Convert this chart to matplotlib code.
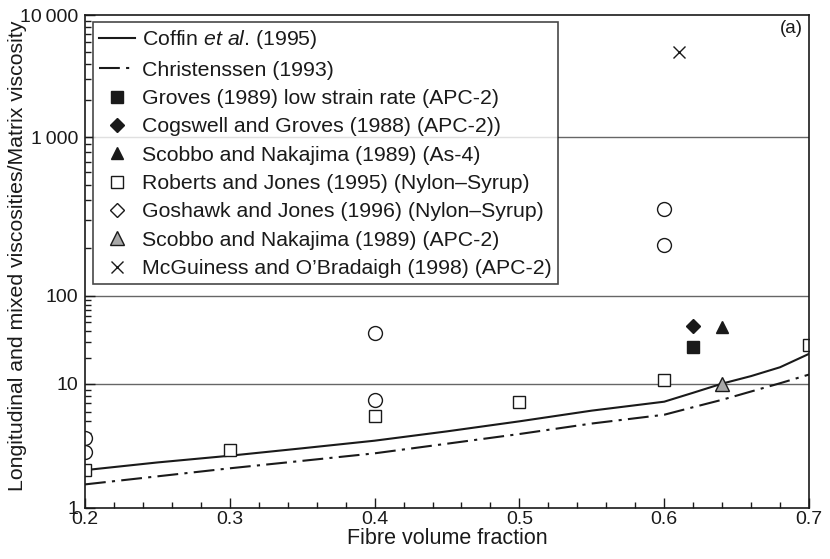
import numpy as np
import matplotlib
matplotlib.use('Agg')
import matplotlib.pyplot as plt
from matplotlib.ticker import FixedLocator, LogLocator, MultipleLocator, NullFormatter

plt.rcParams['font.family'] = ['Liberation Sans', 'DejaVu Sans']
plt.rcParams['mathtext.fontset'] = 'custom'
plt.rcParams['mathtext.it'] = 'Liberation Sans:italic'
plt.rcParams['mathtext.rm'] = 'Liberation Sans'

# model curves
vf_curve = [0.2, 0.25, 0.3, 0.35, 0.4, 0.45, 0.5, 0.55, 0.6, 0.62, 0.64, 0.66, 0.68, 0.7]
coffin = [2.02, 2.33, 2.64, 3.03, 3.49, 4.15, 5.0, 6.1, 7.2, 8.5, 10.1, 12.3, 15.5, 22]
christ = [1.55, 1.8, 2.09, 2.4, 2.76, 3.3, 3.95, 4.8, 5.65, 6.5, 7.46, 8.7, 10.2, 12.8]

# experimental points
groves_x, groves_y = [0.62], [26]
cogswell_x, cogswell_y = [0.62], [46]
scobbo_as4_x, scobbo_as4_y = [0.64], [45]
roberts_x = [0.2, 0.3, 0.4, 0.5, 0.6, 0.7]
roberts_y = [2.02, 2.94, 5.5, 7.1, 11.1, 28]
goshawk_x, goshawk_y = [], []
scobbo_apc_x, scobbo_apc_y = [0.64], [10.0]
mcg_x, mcg_y = [0.61], [5000]
circ_x = [0.2, 0.2, 0.4, 0.4, 0.6, 0.6]
circ_y = [3.65, 2.81, 7.4, 38, 350, 210]

x_ticks = [0.2, 0.3, 0.4, 0.5, 0.6, 0.7]
x_labels = ['0.2', '0.3', '0.4', '0.5', '0.6', '0.7']
y_ticks = [1, 10, 100, 1000, 10000]
y_labels = ['1', '10', '100', '1\u2009000', '10\u2009000']

# the printed axis is not an even log scale: decades have unequal heights
dec = [0, 1, 2, 3, 4]
dec_h = [0, 124, 212, 371, 493]


def fwd(y):
    y = np.asarray(y, dtype=float)
    return np.interp(np.log10(np.clip(y, 1e-10, None)), dec, dec_h, left=-1e3, right=1e3)


def inv(p):
    return 10 ** np.interp(np.asarray(p, dtype=float), dec_h, dec)


fig = plt.figure(figsize=(8.3, 5.59), dpi=100)
ax = fig.add_axes([85 / 830, 1 - 508 / 559, 724 / 830, 493 / 559])
ax.set_yscale('function', functions=(fwd, inv))

k = '#1a1a1a'
ax.plot(vf_curve, coffin, '-', color=k, lw=1.5, label='Coffin $\\it{et\\ al}$. (1995)')
ax.plot(vf_curve, christ, color=k, lw=1.5, linestyle=(0, (10, 3, 1.5, 3)),
        label='Christenssen (1993)')
ms = dict(linestyle='none', mec=k, mew=1.0)
ax.plot(groves_x, groves_y, marker='s', ms=8.5, mfc=k, label='Groves (1989) low strain rate (APC-2)', **ms)
ax.plot(cogswell_x, cogswell_y, marker='D', ms=7.5, mfc=k, label='Cogswell and Groves (1988) (APC-2))', **ms)
ax.plot(scobbo_as4_x, scobbo_as4_y, marker='^', ms=9, mfc=k, label='Scobbo and Nakajima (1989) (As-4)', **ms)
ax.plot(roberts_x, roberts_y, marker='s', ms=8.5, mfc='white', label='Roberts and Jones (1995) (Nylon\u2013Syrup)', **ms)
ax.plot(goshawk_x, goshawk_y, marker='D', ms=7, mfc='white', label='Goshawk and Jones (1996) (Nylon\u2013Syrup)', **ms)
ax.plot(scobbo_apc_x, scobbo_apc_y, marker='^', ms=9.5, mfc='#a8a8a8', label='Scobbo and Nakajima (1989) (APC-2)', **ms)
ax.plot(mcg_x, mcg_y, marker='x', ms=8.5, label='McGuiness and O\u2019Bradaigh (1998) (APC-2)', **ms)
ax.plot(circ_x, circ_y, marker='o', ms=10, mfc='white', **ms)

for g in [10, 100, 1000]:
    ax.axhline(g, color='#666666', lw=1.0, zorder=0)

ax.set_xlim(0.2, 0.7)
ax.set_ylim(1, 10000)
ax.xaxis.set_major_locator(FixedLocator(x_ticks))
ax.xaxis.set_minor_locator(MultipleLocator(0.02))
ax.set_xticklabels(x_labels)
ax.yaxis.set_major_locator(FixedLocator(y_ticks))
ax.yaxis.set_minor_locator(LogLocator(base=10, subs=np.arange(2, 10)))
ax.yaxis.set_minor_formatter(NullFormatter())
ax.set_yticklabels(y_labels)
ax.tick_params(which='both', direction='in', colors=k, labelsize=14)
ax.tick_params(axis='y', pad=5)
ax.tick_params(axis='x', pad=2)
ax.tick_params(which='major', length=7, width=1)
ax.tick_params(which='minor', length=4.5, width=1)
for s in ax.spines.values():
    s.set_color(k)
    s.set_linewidth(1.2)

ax.set_xlabel('Fibre volume fraction', fontsize=15.5, color=k, labelpad=0)
ax.set_ylabel('Longitudinal and mixed viscosities/Matrix viscosity', fontsize=15.3, color=k, va='center')
ax.yaxis.set_label_coords(-0.093, 0.512)
ax.text(0.992, 0.99, '(a)', transform=ax.transAxes, ha='right', va='top', fontsize=13.5, color=k)

leg = ax.legend(loc='upper left', bbox_to_anchor=(0.011, 0.986), borderaxespad=0,
                fontsize=15.3, frameon=True, fancybox=False, edgecolor=k,
                handlelength=1.7, handletextpad=0.3, labelspacing=0.44, borderpad=0.3)
leg.get_frame().set_linewidth(1.2)
for t in leg.get_texts():
    t.set_color(k)

fig.savefig('out.png', dpi=100)
